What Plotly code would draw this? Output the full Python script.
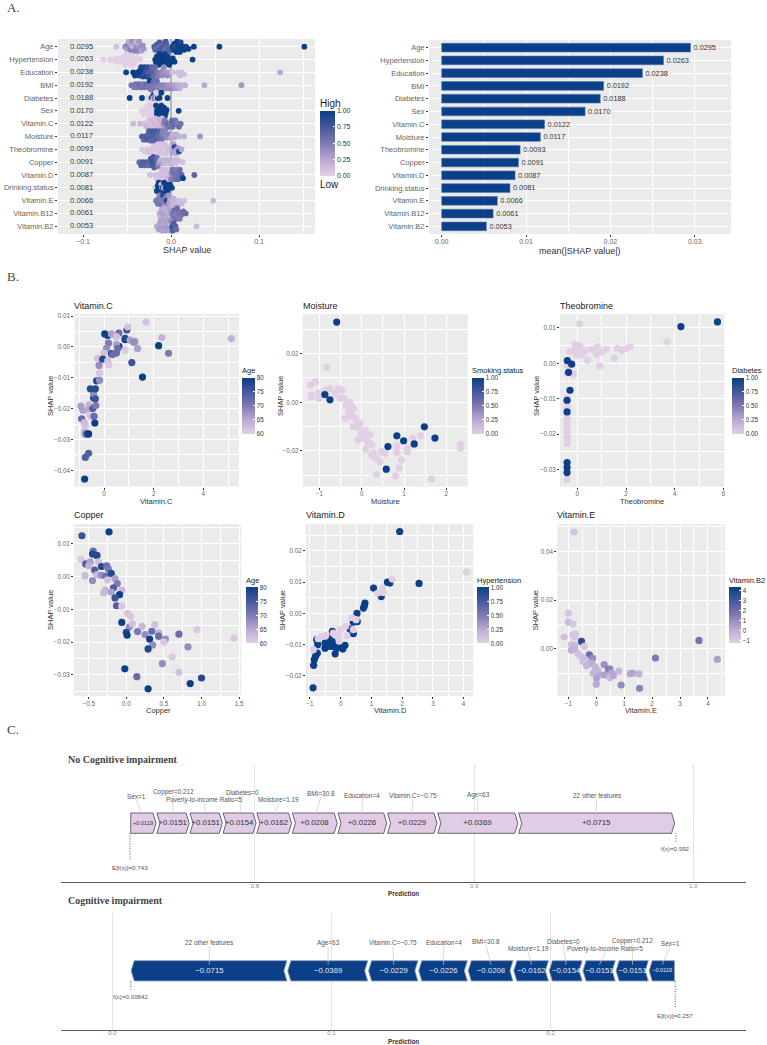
import plotly.graph_objects as go

WIDTH, HEIGHT = 767, 1045
SANS = "Liberation Sans, Arial, sans-serif"
SERIF = "Liberation Serif, Times New Roman, serif"
NAVY = "#0B3F87"
LILAC = "#E0CCE4"
PANEL_BG = "#EBEBEB"
SCALE = [[0, "#E2CFE6"], [0.25, "#B9A9D2"], [0.5, "#7F7AB2"], [0.75, "#46589C"], [1, NAVY]]

# ---- global importance -------------------------------------------------------
FEATURES = ["Age", "Hypertension", "Education", "BMI", "Diabetes", "Sex", "Vitamin.C", "Moisture",
            "Theobromine", "Copper", "Vitamin.D", "Drinking.status", "Vitamin.E", "Vitamin.B12", "Vitamin.B2"]
MEAN_SHAP = [0.0295, 0.0263, 0.0238, 0.0192, 0.0188, 0.0170, 0.0122, 0.0117,
             0.0093, 0.0091, 0.0087, 0.0081, 0.0066, 0.0061, 0.0053]

# ---- per-feature SHAP values and scaled feature values -----------------------
AGE_S = [-0.062, -0.052, -0.05, -0.049, -0.048, -0.047, -0.046, -0.045, -0.044, -0.043, -0.042, -0.041, -0.04, -0.039,
         -0.038, -0.037, -0.036, -0.035, -0.034, -0.032, -0.031, -0.019, -0.018, -0.016, -0.015, -0.014, -0.013, -0.012,
         -0.011, -0.01, -0.009, -0.008, -0.007, -0.006, -0.005, -0.004, -0.002, 0.002, 0.003, 0.004, 0.005, 0.006, 0.007,
         0.008, 0.009, 0.01, 0.011, 0.013, 0.015, 0.017, 0.02, 0.026, 0.055, 0.1515]
AGE_C = [0.1, 0.4, 0.3, 0.45, 0.25, 0.4, 0.5, 0.2, 0.4, 0.15, 0.45, 0.3, 0.2, 0.4, 0.45, 0.25, 0.35, 0.4, 0.3, 0.4, 0.35,
         0.7, 0.65, 0.75, 0.6, 0.7, 0.75, 0.6, 0.7, 0.75, 0.65, 0.7, 0.6, 0.75, 0.7, 0.65, 0.7, 1, 0.95, 1, 0.9, 1, 1,
         0.95, 1, 1, 0.9, 1, 1, 0.95, 1, 1, 1, 1]
HYP_S = [-0.077, -0.069, -0.065, -0.062, -0.06, -0.058, -0.056, -0.054, -0.053, -0.052, -0.051, -0.05, -0.049, -0.048,
         -0.047, -0.046, -0.045, -0.044, -0.043, -0.042, -0.04, -0.038, -0.035, -0.018, -0.017, -0.016, -0.016, -0.015,
         -0.015, -0.014, -0.014, -0.013, -0.013, -0.012, -0.012, -0.012, -0.011, -0.011, -0.011, -0.01, -0.01, -0.01,
         -0.009, -0.009, -0.009, -0.008, -0.008, -0.008, -0.007, -0.007, -0.006, -0.006, -0.005, -0.004, -0.003, -0.002,
         0.0, 0.002, 0.004, 0.0245]
HYP_C = [0] * 23 + [1] * 37
EDU_S = [-0.051, -0.043, -0.041, -0.038, -0.036, -0.035, -0.034, -0.033, -0.032, -0.031, -0.03, -0.029, -0.028, -0.027,
         -0.026, -0.025, -0.024, -0.023, -0.022, -0.021, -0.02, -0.019, -0.018, -0.016, -0.014, -0.012, -0.01, -0.009,
         -0.008, -0.006, -0.004, -0.002, 0.002, 0.008, 0.01, 0.012, 0.015, 0.124]
EDU_C = [1, 1, 1, 1, 0.95, 1, 0.9, 1, 0.85, 0.95, 0.9, 0.8, 0.9, 0.75, 0.85, 0.7, 0.8, 0.7, 0.65, 0.7, 0.6, 0.65, 0.6, 0.55,
         0.5, 0.45, 0.4, 0.4, 0.4, 0.35, 0.4, 0.3, 0.1, 0.12, 0.1, 0.12, 0.1, 0.25]
BMI_S = [-0.045, -0.042, -0.04, -0.038, -0.036, -0.034, -0.032, -0.03, -0.028, -0.026, -0.024, -0.024, -0.023, -0.022,
         -0.02, -0.019, -0.018, -0.017, -0.016, -0.015, -0.014, -0.012, -0.01, -0.008, -0.006, -0.004, -0.002, 0.0, 0.002,
         0.004, 0.006, 0.008, 0.01, 0.012, 0.016, 0.038, 0.08]
BMI_C = [0.55, 0.5, 0.55, 0.5, 0.6, 0.55, 0.5, 0.55, 0.6, 0.5, 0.55, 1, 0.5, 0.55, 0.6, 0.5, 0.55, 0.5, 0.6, 0.45, 0.5, 0.45,
         0.4, 0.45, 0.4, 0.35, 0.4, 0.35, 0.4, 0.3, 0.3, 0.25, 0.2, 0.2, 0.2, 0.25, 0.35]
DIA_S = [-0.047, -0.033, -0.026, -0.022, -0.021, -0.02, -0.02, -0.019, -0.019, -0.018, -0.018, -0.017, -0.017, -0.016,
         -0.016, -0.015, -0.015, -0.014, -0.013, -0.012, -0.011, -0.004]
DIA_C = [1, 1, 0, 1, 0, 1, 0, 1, 0, 0, 1, 0, 0, 1, 0, 0, 1, 0, 1, 0, 1, 1]
SEX_S = [-0.033, -0.031, -0.029, -0.028, -0.027, -0.026, -0.025, -0.024, -0.023, -0.022, -0.021, -0.02, -0.019, -0.018,
         -0.017, -0.016, -0.016, -0.015, -0.015, -0.014, -0.014, -0.013, -0.013, -0.012, -0.012, -0.012, -0.011, -0.011,
         -0.011, -0.01, -0.01, -0.01, -0.009, -0.009, -0.008, -0.007, -0.006, -0.005, 0.0087]
SEX_C = [0] * 14 + [1] * 25
VTC_S = [-0.043, -0.035, -0.03, -0.028, -0.026, -0.025, -0.024, -0.022, -0.021, -0.02, -0.019, -0.018, -0.017, -0.016,
         -0.015, -0.014, -0.013, -0.012, -0.011, -0.01, -0.009, -0.008, -0.007, -0.006, -0.004, -0.002, 0.0, 0.001, 0.002,
         0.003, 0.003, 0.005, 0.007, 0.009, 0.011]
VTC_C = [0.15, 0.15, 0.1, 0.15, 0.1, 0.1, 0.15, 0.05, 0.15, 0.1, 0.15, 0.1, 0.1, 0.15, 0.1, 0.15, 0.1, 0.15, 0.2, 0.15, 0.2,
         0.45, 0.5, 0.45, 0.6, 0.55, 0.5, 0.6, 0.55, 1, 0.6, 0.55, 0.5, 0.6, 0.55]
MST_S = [-0.033, -0.031, -0.029, -0.027, -0.026, -0.025, -0.024, -0.023, -0.022, -0.021, -0.02, -0.019, -0.018, -0.017,
         -0.016, -0.015, -0.014, -0.013, -0.012, -0.011, -0.01, -0.009, -0.008, -0.006, -0.004, -0.002, 0.0, 0.002, 0.004,
         0.006, 0.009, 0.015, 0.033]
MST_C = [0.7, 0.65, 0.75, 0.7, 0.65, 0.7, 0.75, 0.65, 0.7, 0.75, 0.7, 0.65, 0.7, 0.75, 0.65, 0.7, 0.6, 0.65, 0.6, 0.55, 0.5,
         0.45, 0.5, 0.45, 0.4, 0.45, 0.25, 0.2, 0.25, 0.2, 0.2, 0.2, 0.35]
THE_S = [-0.033, -0.03, -0.027, -0.025, -0.023, -0.021, -0.02, -0.018, -0.017, -0.016, -0.015, -0.014, -0.013, -0.012,
         -0.011, -0.01, -0.009, -0.008, -0.007, -0.006, -0.005, -0.003, -0.002, 0.0, 0.001, 0.002, 0.003, 0.004, 0.005,
         0.006, 0.008, 0.009, 0.012]
THE_C = [0.05, 0.05, 0.05, 0.08, 0.05, 0.05, 0.08, 0.05, 0.05, 0.08, 0.05, 0.05, 0.08, 0.05, 0.05, 0.08, 0.05, 0.05, 0.08,
         0.05, 0.08, 0.1, 0.1, 0.1, 0.15, 0.3, 0.3, 0.9, 0.3, 0.25, 0.3, 0.9, 0.25]
COP_S = [-0.036, -0.034, -0.032, -0.03, -0.028, -0.026, -0.024, -0.023, -0.022, -0.021, -0.02, -0.019, -0.018, -0.017,
         -0.016, -0.015, -0.014, -0.012, -0.01, -0.008, -0.006, -0.004, -0.002, 0.0, 0.002, 0.004, 0.006, 0.008, 0.013]
COP_C = [0.6, 0.65, 0.7, 0.65, 0.7, 0.6, 0.65, 0.75, 0.7, 0.8, 0.75, 0.7, 0.75, 0.7, 0.6, 0.5, 0.35, 0.2, 0.25, 0.2, 0.15,
         0.2, 0.15, 0.2, 0.15, 0.15, 0.1, 0.15, 0.1]
VTD_S = [-0.024, -0.018, -0.016, -0.014, -0.012, -0.011, -0.01, -0.009, -0.008, -0.007, -0.006, -0.005, -0.004, -0.003,
         -0.002, -0.001, 0.0, 0.001, 0.002, 0.003, 0.004, 0.005, 0.006, 0.007, 0.008, 0.009, 0.01, 0.012, 0.0136, 0.0265]
VTD_C = [0.1, 0.1, 0.08, 0.1, 0.08, 0.1, 0.12, 0.1, 0.08, 0.1, 0.12, 0.1, 0.15, 0.1, 0.12, 0.15, 0.45, 0.5, 0.55, 0.5, 0.55,
         0.6, 0.5, 0.55, 0.6, 0.55, 0.6, 0.65, 1, 0.65]
DRK_S = [-0.018, -0.016, -0.015, -0.014, -0.013, -0.012, -0.012, -0.011, -0.011, -0.01, -0.01, -0.009, -0.009, -0.008,
         -0.008, -0.008, -0.007, -0.007, -0.006, -0.006, -0.005, -0.004, -0.003, -0.001, 0.001]
DRK_C = [0.05, 1, 1, 1, 1, 1, 1, 0.05, 1, 1, 0.05, 1, 1, 1, 1, 0.05, 1, 0.05, 1, 1, 1, 1, 1, 1, 1]
VTE_S = [-0.017, -0.015, -0.014, -0.013, -0.012, -0.011, -0.01, -0.009, -0.009, -0.008, -0.007, -0.006, -0.005, -0.005,
         -0.004, -0.003, -0.002, -0.001, 0.0, 0.002, 0.003, 0.004, 0.006, 0.008, 0.01, 0.012, 0.015, 0.048]
VTE_C = [0.5, 0.55, 0.5, 0.45, 0.5, 0.55, 0.5, 0.9, 0.45, 0.5, 0.45, 0.5, 0.4, 0.9, 0.4, 0.35, 0.3, 0.25, 0.2, 0.15, 0.2, 0.15,
         0.15, 0.15, 0.1, 0.15, 0.1, 0.15]
B12_S = [-0.013, -0.012, -0.011, -0.01, -0.009, -0.008, -0.007, -0.006, -0.005, -0.004, -0.003, -0.002, -0.001, 0.0, 0.001,
         0.002, 0.003, 0.004, 0.005, 0.006, 0.007, 0.008, 0.009, 0.01, 0.012, 0.014, 0.0167]
B12_C = [0.25, 0.2, 0.25, 0.3, 0.25, 0.2, 0.3, 0.25, 0.2, 0.25, 0.3, 0.2, 0.25, 0.3, 0.4, 0.5, 0.55, 0.6, 0.5, 0.55, 0.6, 0.5,
         0.55, 0.5, 0.55, 0.6, 0.6]
B2_S = [-0.016, -0.014, -0.013, -0.012, -0.011, -0.01, -0.009, -0.008, -0.007, -0.006, -0.005, -0.004, -0.003, -0.002,
        -0.001, 0.0, 0.001, 0.002, 0.002, 0.003, 0.004, 0.005, 0.006, 0.029]
B2_C = [0.25, 0.3, 0.25, 0.3, 0.35, 0.3, 0.25, 0.3, 0.35, 0.3, 0.25, 0.3, 0.35, 0.3, 0.25, 0.4, 0.6, 0.7, 0.9, 0.7, 0.65, 0.7,
        0.6, 0.15]
ROW_SHAP = [AGE_S, HYP_S, EDU_S, BMI_S, DIA_S, SEX_S, VTC_S, MST_S, THE_S, COP_S, VTD_S, DRK_S, VTE_S, B12_S, B2_S]
ROW_COLOUR = [AGE_C, HYP_C, EDU_C, BMI_C, DIA_C, SEX_C, VTC_C, MST_C, THE_C, COP_C, VTD_C, DRK_C, VTE_C, B12_C, B2_C]

# ---- dependence panels --------------------------------------------------------
VITC_X = [-0.93, -0.9, -0.85, -0.8, -0.78, -0.76, -0.75, -0.68, -0.62, -0.75, -0.62, -0.78, -0.6, -0.65, -0.58, -0.5, -0.4,
          -0.37, -0.45, -0.33, -0.42, -0.42, -0.35, -0.55, -0.35, -0.3, -0.18, -0.18, -0.2, -0.25, 0.03, 0.15, 0.3, 0.6,
          0.92, 0.95, 1.7, 2.33, 5.13, 2.2, 2.6, 1.55, 1.12, 0.85, 0.85, 1.05, 1.25, 1.2, 1.35, 0.85, 0.6, 0.5, 0.3, 0.18,
          0.1, 0.0, -0.05, 0.15, 0.2, 0.35, 0.5, 0.5, 0.55]
VITC_Y = [-0.0192, -0.0233, -0.0205, -0.0245, -0.0275, -0.0282, -0.0255, -0.0282, -0.0282, -0.0358, -0.0345, -0.0428,
          -0.0188, -0.0205, -0.022, -0.0225, -0.0225, -0.0247, -0.02, -0.019, -0.0165, -0.0152, -0.0168, -0.0136, -0.0136,
          -0.011, -0.0108, -0.0085, -0.006, -0.0037, 0.0042, 0.0037, 0.0042, 0.0045, 0.0055, 0.0065, 0.008, 0.003, 0.0027,
          0.0004, -0.0021, -0.0098, -0.0051, 0.0023, 0.0028, 0.0022, 0.0018, 0.0015, -0.0005, -0.001, 0.0002, 0.0033,
          -0.0022, 0.0012, -0.0005, -0.002, -0.004, -0.0045, -0.0058, -0.0025, -0.002, 0.0008, -0.0005]
VITC_AGE = [66, 72, 66, 63, 64, 67, 62, 78, 80, 74, 74, 80, 64, 65, 61, 62, 72, 80, 74, 70, 78, 68, 76, 78, 78, 78, 68, 61,
            68, 62, 80, 80, 66, 72, 75, 62, 62, 64, 64, 80, 70, 80, 76, 80, 78, 66, 66, 68, 66, 61, 80, 62, 78, 70, 68, 62,
            78, 62, 61, 72, 72, 66, 72]

MOIST_X = [-0.83, -1.09, -1.21, -1.2, -1.18, -1.02, -1.01, -0.87, -0.75, -0.55, -0.47, -0.63, -0.51, -0.42, -0.37, -0.24,
           -0.31, -0.39, -0.24, -0.16, -0.1, -0.2, -0.08, 0.08, 0.2, -0.08, 0.04, 0.16, 0.24, 0.1, 0.24, 0.35, 0.43, 0.55,
           0.35, 0.8, 0.88, 0.94, 0.83, 0.83, 1.08, 1.08, 1.2, 1.39, 1.65, 2.33, 2.33, -0.28, -0.2, -0.04, 0.0, 0.12, 0.28,
           0.47, -0.87, -0.75, -0.59, 0.62, 1.48, 0.83, 0.99, 1.73, 1.24, 0.58]
MOIST_Y = [0.0144, 0.0084, 0.007, 0.003, 0.0023, 0.0037, 0.0016, 0.005, 0.0056, 0.0055, 0.0048, 0.0037, 0.0016, 0.0016,
           -0.0011, -0.002, -0.0038, -0.0066, -0.0056, -0.0066, -0.008, -0.01, -0.0103, -0.0114, -0.0134, -0.0155, -0.0148,
           -0.0168, -0.0175, -0.0193, -0.0219, -0.023, -0.0244, -0.021, -0.0296, -0.0303, -0.027, -0.0237, -0.0179, -0.0205,
           -0.0189, -0.0203, -0.0148, -0.0137, -0.0315, -0.0173, -0.019, 0.0, -0.0028, -0.0086, -0.0127, -0.0141, -0.0208,
           -0.0203, 0.0032, 0.001, 0.033, -0.0182, -0.0101, -0.0138, -0.0158, -0.0147, -0.0171, -0.0275]
MOIST_SMOKE = [0] * 54 + [1] * 10

THEO_X = [0.1, 3.68, -0.1, 0.1, -0.3, -0.1, 0.11, -0.03, 0.18, 0.32, 0.42, 0.59, 0.82, 0.79, 1.0, 1.18, 0.92, 1.52, 1.64, 1.82,
          2.03, 2.16, -0.42, -0.41, -0.16, -0.42, -0.42, -0.42, -0.42, -0.42, -0.42, -0.42, -0.42, -0.42, -0.42, -0.42,
          -0.42, -0.42, -0.42, 5.75, 4.25, -0.23, -0.36, -0.3, -0.42, -0.42, -0.42, -0.42, -0.42, -0.41]
THEO_Y = [0.0112, 0.0061, 0.0054, 0.005, 0.0033, 0.0038, 0.0033, 0.0024, 0.0024, 0.0036, 0.0009, 0.004, 0.0047, 0.0026, 0.0033,
          0.004, -0.0007, 0.0015, 0.0042, 0.0038, 0.0042, 0.0047, -0.0005, -0.0028, -0.003, -0.0098, -0.011, -0.012, -0.0128,
          -0.0145, -0.0155, -0.0165, -0.0175, -0.0185, -0.0195, -0.0205, -0.0215, -0.0226, -0.0328, 0.0117, 0.0104, -0.0002,
          -0.0025, -0.0076, -0.0104, -0.0137, -0.028, -0.0294, -0.0308, 0.0008]
THEO_DIAB = [0] * 39 + [1] * 11

COPPER_X = [-0.59, -0.23, -0.6, -0.44, -0.45, -0.39, -0.54, -0.48, -0.5, -0.37, -0.33, -0.26, -0.42, -0.55, -0.45, -0.39, -0.33,
            -0.27, -0.24, -0.25, -0.2, -0.15, -0.12, -0.17, -0.28, -0.3, -0.2, -0.06, -0.09, -0.15, -0.13, -0.06, 0.02, 0.06,
            -0.06, 0.04, 0.08, 0.0, 0.01, 0.15, 0.21, 0.25, 0.34, 0.38, 0.43, 0.43, 0.52, 0.5, 0.7, 0.94, 1.43, 0.31, 0.35,
            0.29, 0.82, 0.61, 0.48, -0.02, 0.14, 0.7, 1.0, 0.85, 0.29]
COPPER_Y = [0.0125, 0.0137, 0.0053, 0.0078, 0.0069, 0.0065, 0.0039, 0.0045, 0.0033, 0.0045, 0.0031, 0.0033, 0.002, 0.0003,
            -0.0012, 0.0006, 0.0004, 0.0002, 0.0024, -0.001, 0.001, -0.0006, -0.0021, -0.0034, -0.0042, -0.0049, -0.0047,
            -0.0042, -0.0055, -0.0065, -0.0089, -0.009, -0.0113, -0.0121, -0.014, -0.0154, -0.0144, -0.017, -0.0179, -0.0168,
            -0.0152, -0.0177, -0.0167, -0.0147, -0.0172, -0.0182, -0.0191, -0.02, -0.0176, -0.0162, -0.0188, -0.0191, -0.0209,
            -0.0221, -0.0215, -0.0245, -0.0266, -0.0282, -0.0306, -0.0292, -0.031, -0.0327, -0.0343]
COPPER_AGE = [76, 80, 61, 72, 78, 78, 74, 66, 64, 62, 78, 72, 74, 63, 68, 63, 68, 72, 70, 62, 78, 66, 70, 74, 64, 63, 66, 63, 80,
              76, 74, 61, 62, 61, 80, 68, 62, 78, 80, 70, 63, 68, 72, 62, 64, 72, 68, 61, 72, 61, 61, 80, 68, 78, 68, 61, 68,
              80, 72, 62, 78, 80, 80]

VITD_X = [1.92, 2.55, 1.07, 1.32, 1.52, 1.6, 0.79, 0.77, 0.74, 0.53, 0.41, 0.54, 0.3, 0.41, -0.27, -0.78, -0.75, -0.76, -0.82,
          -0.86, -0.88, -0.9, -0.18, -0.51, -0.51, -0.35, -0.29, -0.18, -0.08, 0.09, 0.14, 0.07, -0.35, -0.24, -0.13, -0.4,
          4.09, 1.68, 1.36, 1.21, 1.39, 0.36, 0.5, 0.16, 0.41, -0.02, 0.2, -0.18, -0.08, -0.62, -0.49, -0.73, -0.89, -0.05, -0.24]
VITD_Y = [0.0262, 0.0096, 0.0081, 0.0054, 0.01, 0.0097, 0.0033, 0.0024, 0.0017, 0.0, -0.0028, -0.0026, -0.005, -0.0065, -0.0057,
          -0.0084, -0.01, -0.0127, -0.0137, -0.0148, -0.0166, -0.0238, -0.0129, -0.0111, -0.0095, -0.0105, -0.0089, -0.0095,
          -0.01, -0.0105, -0.0102, -0.0114, -0.0079, -0.0105, -0.0111, -0.01, 0.0133, 0.011, 0.0081, 0.0065, 0.0067, -0.0013,
          -0.002, -0.0041, -0.0052, -0.0052, -0.0071, -0.0068, -0.0073, -0.0073, -0.0071, -0.0081, -0.0116, -0.0089, -0.0063]
VITD_HYP = [1] * 36 + [0] * 19

VITE_X = [-0.8, -1.0, -1.0, -0.83, -1.15, -0.83, -0.75, -0.77, -0.53, -0.43, -0.89, -0.77, -0.89, -0.77, -0.65, -0.25, -0.53, -0.41,
          -0.13, -0.29, -0.17, -0.47, -0.35, -0.05, 0.04, -0.11, 0.13, 0.01, 0.28, 0.44, 0.49, 0.31, 0.55, 0.49, 0.61, 0.81, 0.0,
          0.89, 1.22, 1.3, 1.53, 1.55, 2.12, 3.68, 4.34]
VITE_Y = [0.0479, 0.0147, 0.011, 0.0102, 0.0049, 0.0057, 0.006, 0.0048, 0.0031, 0.0011, 0.0018, 0.0014, -0.0005, -0.0004, -0.002,
          -0.0024, -0.0031, -0.0042, -0.0038, -0.0059, -0.0059, -0.0052, -0.0069, -0.0072, -0.0086, -0.0099, -0.0106, -0.012,
          -0.0064, -0.0082, -0.0082, -0.0106, -0.0099, -0.0117, -0.0109, -0.0091, -0.0144, -0.0148, -0.0101, -0.0099, -0.0102,
          -0.0161, -0.0037, 0.0035, -0.0042]
VITE_B2 = [-0.8, -0.9, -0.5, -0.9, -0.7, -0.8, -0.9, -0.9, 3.5, -0.9, -0.6, -0.4, -0.1, -0.2, -0.7, 2.0, -0.7, -0.6, 1.0, -0.4, 0.0,
           -0.7, -0.3, -0.2, -0.3, -0.3, 0.0, 0.3, 0.8, 1.8, 1.2, 0.4, 0.2, -0.5, 0.2, -0.4, 0.0, 1.0, 0.2, 0.2, -0.2, 1.2, 1.5,
           1.8, 0.4]

# ---- force plots --------------------------------------------------------------
FORCE_LABELS = ["Sex=1", "Copper=0.212", "Poverty-to-income Ratio=5", "Diabetes=0", "Moisture=1.19", "BMI=30.8",
                "Education=4", "Vitamin.C=\u22120.75", "Age=63", "22 other features"]
FORCE_CONTRIB = [0.0119, 0.0151, 0.0151, 0.0154, 0.0162, 0.0208, 0.0226, 0.0229, 0.0369, 0.0715]
BASE_NO_IMPAIR = 0.743
OUT_NO_IMPAIR = 0.992
BASE_IMPAIR = 0.257
OUT_IMPAIR = 0.00842

# Label centres for the force plots, in page pixels.
C1_LABEL_X = [136, 173.3, 204, 242.3, 278.7, 321, 362.3, 413, 478, 596.7]
C1_LABEL_Y = [796, 792.3, 799.7, 792.3, 799.7, 793.3, 795, 795, 795, 795]
C2_LABEL_X = [670, 632.3, 605.3, 563.3, 528, 485.7, 443.7, 393, 328, 209.3]
C2_LABEL_Y = [943.3, 941, 948.7, 941, 948.3, 941, 942.7, 942.7, 942.7, 942.7]


def fx(px):
    return px / WIDTH


def fy(py):
    return 1 - py / HEIGHT


fig = go.Figure()
# Margins stay fixed so the colour bars cannot push the pixel-placed panels around.
layout = dict(width=WIDTH, height=HEIGHT, autosize=False, margin=dict(l=0, r=0, t=0, b=0, autoexpand=False), paper_bgcolor="white",
              plot_bgcolor="white", showlegend=False, font=dict(family=SANS, color="#4D4D4D"))
notes = []
shapes = []


def note(text, x, y, size, color="#333333", anchor="center", family=SANS, angle=0):
    notes.append(dict(text=text, x=fx(x), y=fy(y), xref="paper", yref="paper", showarrow=False, xanchor=anchor,
                      yanchor="middle", textangle=angle, font=dict(size=size, color=color, family=family),
                      borderpad=0, borderwidth=0))


def ggplot_axes(n, box, xrange, yrange, xdtick, ydtick, xfmt, yfmt, size=6.3):
    """Place one grey-panel pair of axes at a pixel box (left, right, top, bottom)."""
    left, right, top, bottom = box
    suffix = "" if n == 1 else str(n)
    shapes.append(dict(type="rect", xref="paper", yref="paper", x0=fx(left), x1=fx(right), y0=fy(bottom), y1=fy(top),
                       fillcolor=PANEL_BG, line=dict(width=0), layer="below"))
    common = dict(showgrid=True, gridcolor="white", gridwidth=0.9, zeroline=False, showline=False, ticks="outside", ticklen=2,
                  tickwidth=0.8, tickcolor="#333333", tickfont=dict(size=size, color="#666666", family=SANS))
    layout["xaxis" + suffix] = dict(common, domain=[fx(left), fx(right)], anchor="y" + suffix, range=xrange, dtick=xdtick,
                                    tick0=0, tickformat=xfmt, ticklabelstandoff=-1,
                                    minor=dict(dtick=xdtick / 2, tick0=0, showgrid=True, gridcolor="white", gridwidth=0.4, ticks=""))
    yaxis = dict(common, domain=[fy(bottom), fy(top)], anchor="x" + suffix, range=yrange)
    if ydtick is not None:
        yaxis.update(dtick=ydtick, tick0=0, tickformat=yfmt,
                     minor=dict(dtick=ydtick / 2, tick0=0, showgrid=True, gridcolor="white", gridwidth=0.4, ticks=""))
    layout["yaxis" + suffix] = yaxis
    return "x" + suffix, "y" + suffix


def colour_bar(n, box, cmin, cmax, tickvals, fmt, size=6.3):
    left, right, top, bottom = box
    key = "coloraxis" if n == 1 else "coloraxis" + str(n)
    layout[key] = dict(colorscale=SCALE, cmin=cmin, cmax=cmax, colorbar=dict(
        x=fx(left), xanchor="left", y=fy(top), yanchor="top", yref="paper", xref="paper", len=bottom - top, lenmode="pixels",
        thickness=right - left, thicknessmode="pixels", xpad=0, ypad=0, outlinewidth=0, tickvals=tickvals, tickformat=fmt,
        ticks="inside", ticklen=2, tickwidth=0.6, tickcolor="white", tickfont=dict(size=size, color="#333333", family=SANS)))
    return key


# Panel A, left: beeswarm of SHAP values per feature.
AX_BOX = (58, 315, 39, 234)
ax, ay = ggplot_axes(1, AX_BOX, [-0.1284, 0.1636], [14.6, -0.6], 0.1, None, ".1f", None, size=7)
layout["yaxis"].update(tickvals=list(range(15)), ticktext=FEATURES, showgrid=True,
                       tickfont=dict(size=7.5, color="#666666", family=SANS))
# Reference line at zero sits under the points.
fig.add_trace(go.Scatter(x=[0, 0], y=[14.6, -0.6], xaxis=ax, yaxis=ay, mode="lines", hoverinfo="skip",
                         line=dict(color="#B0B0B0", width=1.8)))
PX_PER_SHAP = 880.0
PX_PER_ROW = 12.78


def swarm_offsets(values, spacing=2.9, limit=5.6):
    """Stack points around their row line so that they spread without covering each other."""
    placed = []
    offsets = []
    for v in values:
        px = v * PX_PER_SHAP
        choice = 0.0
        step = 0
        while True:
            candidates = [0.0] if step == 0 else [step * 1.05, -step * 1.05]
            hit = None
            for dy in candidates:
                if abs(dy) > limit:
                    continue
                if all((px - qx) ** 2 + (dy - qy) ** 2 >= spacing ** 2 for qx, qy in placed):
                    hit = dy
                    break
            if hit is not None:
                choice = hit
                break
            step += 1
            if step * 1.05 > limit:
                break
        placed.append((px, choice))
        offsets.append(choice / PX_PER_ROW)
    return offsets


swarm_x, swarm_y, swarm_c = [], [], []
for row, (vals, cols) in enumerate(zip(ROW_SHAP, ROW_COLOUR)):
    swarm_x += vals
    swarm_y += [row + d for d in swarm_offsets(vals)]
    swarm_c += cols
cb = colour_bar(1, (320, 335, 110.7, 176), 0, 1, [0, 0.25, 0.5, 0.75, 1], ".2f", size=7)
fig.add_trace(go.Scatter(x=swarm_x, y=swarm_y, xaxis=ax, yaxis=ay, mode="markers", hoverinfo="skip",
                         marker=dict(size=5.8, color=swarm_c, coloraxis=cb, line=dict(width=0))))
fig.add_trace(go.Scatter(x=[-0.1015] * 15, y=list(range(15)), xaxis=ax, yaxis=ay, mode="text", hoverinfo="skip",
                         text=["%.4f" % v for v in MEAN_SHAP], textfont=dict(size=7.6, color="#333333", family=SANS)))
note("SHAP value", 186.5, 250, 9)
note("High", 320, 103, 10, anchor="left", color="#222222")
note("Low", 320, 184.5, 10, anchor="left", color="#222222")

# Panel A, right: mean absolute SHAP value.
bx, by = ggplot_axes(2, (429, 731, 40, 234), [-0.0015, 0.0343], [14.6, -0.6], 0.01, None, ".2f", None, size=7)
layout["yaxis2"].update(type="category", categoryorder="array", categoryarray=FEATURES,
                        tickfont=dict(size=7.5, color="#666666", family=SANS))
fig.add_trace(go.Bar(x=MEAN_SHAP, y=FEATURES, xaxis=bx, yaxis=by, orientation="h", width=0.68, hoverinfo="skip",
                     marker=dict(color=NAVY, line=dict(color="#4D78AE", width=0.6)),
                     text=["%.4f" % v for v in MEAN_SHAP], textposition="outside", cliponaxis=False,
                     textfont=dict(size=7.6, color="#333333", family=SANS)))
note("mean(|SHAP value|)", 580, 250.5, 9)

# Panel B: dependence plots.
DEPENDENCE = [
    (3, "Vitamin.C", (74.3, 239, 314, 486.7), [-1.196, 5.437], [-0.0453, 0.01065], 2, 0.01, "d", VITC_X, VITC_Y, VITC_AGE,
     "Age", (242.3, 255), 60, 80, [60, 65, 70, 75, 80], "d", 156.7, 50),
    (4, "Moisture", (302.7, 467.7, 314, 486.7), [-1.394, 2.504], [-0.0347, 0.0363], 1, 0.02, "d", MOIST_X, MOIST_Y, MOIST_SMOKE,
     "Smoking.status", (471.7, 483.3), 0, 1, [0, 0.25, 0.5, 0.75, 1], ".2f", 385, 280),
    (5, "Theobromine", (560, 724.3, 314, 486.7), [-0.71, 6.03], [-0.0348, 0.01395], 2, 0.01, "d", THEO_X, THEO_Y, THEO_DIAB,
     "Diabetes", (731.7, 743.3), 0, 1, [0, 0.25, 0.5, 0.75, 1], ".2f", 642, 536),
    (6, "Copper", (74, 241.3, 524, 696), [-0.6955, 1.529], [-0.0365, 0.0161], 0.5, 0.01, ".1f", COPPER_X, COPPER_Y, COPPER_AGE,
     "Age", (245.7, 257.7), 60, 80, [60, 65, 70, 75, 80], "d", 158, 50),
    (7, "Vitamin.D", (306, 473.3, 524, 696), [-1.129, 4.315], [-0.0264, 0.0286], 1, 0.01, "d", VITD_X, VITD_Y, VITD_HYP,
     "Hypertension", (477.3, 489.3), 0, 1, [0, 0.25, 0.5, 0.75, 1], ".2f", 390, 282.3),
    (8, "Vitamin.E", (557.3, 725, 524, 696), [-1.398, 4.613], [-0.01926, 0.0512], 1, 0.02, "d", VITE_X, VITE_Y, VITE_B2,
     "Vitamin.B2", (728.7, 740.7), -1.27, 4.3, [-1, 0, 1, 2, 3, 4], "d", 641, 535.3),
]
for n, name, box, xr, yr, xd, yd, xf, xs, ys, cs, legend, cbx, cmin, cmax, cbt, cbf, xlab, ylab in DEPENDENCE:
    dx, dy = ggplot_axes(n, box, xr, yr, xd, yd, xf, ".2f")
    cb_top, cb_bottom = (377.7, 433.7) if n < 6 else (587.3, 643.7)
    cb = colour_bar(n - 1, (cbx[0], cbx[1], cb_top, cb_bottom), cmin, cmax, cbt, cbf)
    fig.add_trace(go.Scatter(x=xs, y=ys, xaxis=dx, yaxis=dy, mode="markers", hoverinfo="skip",
                             marker=dict(size=7.2, color=cs, coloraxis=cb, line=dict(width=0))))
    title_y, xlab_y, ylab_y = (306, 501.5, 396) if n < 6 else (515.3, 710.5, 610)
    note(name, box[0], title_y, 9, anchor="left", color="#222222")
    note(name, xlab, xlab_y, 7.5)
    note("SHAP value", ylab, ylab_y, 7.5, angle=-90)
    note(legend, cbx[0], cb_top - 7, 7.5, anchor="left", color="#222222")

# Panel C: force plots built from the base value and the ordered contributions.
TIP = 0.0014
GAP = 0.00035


def chevron(start, end, low, high):
    """Outline of one arrow segment running from start to end; the sign of end-start sets its direction."""
    sign = 1 if end > start else -1
    mid = (low + high) / 2
    tip = TIP * sign
    gap = GAP * sign
    notch = 0 if abs(start - force_base) < 1e-9 else tip
    return ([start + gap, end - tip, end, end - tip, start + gap, start + gap + notch, start + gap],
            [low, low, mid, high, high, mid, low])


def force_axes(n, top, bottom, xrange):
    suffix = str(n)
    layout["xaxis" + suffix] = dict(domain=[fx(60.7), fx(745.7)], anchor="y" + suffix, range=xrange, dtick=0.1, tick0=0, tickformat=".1f",
                                    showgrid=True, gridcolor="#E4E4E4", gridwidth=0.8, zeroline=False, showline=True, linecolor="#5A5A5A",
                                    linewidth=1.4, ticks="", ticklabelstandoff=-3, tickfont=dict(size=6, color="#8A8A8A", family=SANS))
    layout["yaxis" + suffix] = dict(domain=[fy(bottom), fy(top)], anchor="x" + suffix, range=[0, 1], visible=False)
    return "x" + suffix, "y" + suffix


FORCE_STYLE = {
    9: dict(box=(764, 882.3), xrange=[0.7114, 1.0238], base=BASE_NO_IMPAIR, out=OUT_NO_IMPAIR, sign=1, fill=LILAC, edge="#5F5266",
            text="#333333", low=0.414, high=0.586, lab_x=C1_LABEL_X, lab_y=C1_LABEL_Y, bar_top=813, base_end=0.188, out_end=0.343,
            base_y=867.3, out_y=848.7, title="No Cognitive impairment", title_y=759.3, pred_y=893.3),
    10: dict(box=(912.7, 1030), xrange=[-0.02356, 0.2892], base=BASE_IMPAIR, out=OUT_IMPAIR, sign=-1, fill=NAVY, edge="#8E9DB4",
             text="#E4E9F2", low=0.418, high=0.591, lab_x=C2_LABEL_X, lab_y=C2_LABEL_Y, bar_top=960.7, base_end=0.185, out_end=0.347,
             base_y=1015, out_y=996.7, title="Cognitive impairment", title_y=900.7, pred_y=1041),
}
for n, st in FORCE_STYLE.items():
    fx_ax, fy_ax = force_axes(n, st["box"][0], st["box"][1], st["xrange"])
    force_base = st["base"]
    px_per_unit = 685.0 / (st["xrange"][1] - st["xrange"][0])
    cursor = st["base"]
    centres, sizes, strings = [], [], []
    for i, (label, value) in enumerate(zip(FORCE_LABELS, FORCE_CONTRIB)):
        end = cursor + st["sign"] * value
        xs, ys = chevron(cursor, end, st["low"], st["high"])
        fig.add_trace(go.Scatter(x=xs, y=ys, xaxis=fx_ax, yaxis=fy_ax, mode="lines", fill="toself", fillcolor=st["fill"],
                                 line=dict(color=st["edge"], width=0.9), hoverinfo="skip"))
        centre = (cursor + end) / 2
        centres.append(centre)
        sizes.append(5.6 if i == 0 else 7.8)
        strings.append(("+" if st["sign"] > 0 else "\u2212") + ("%.4f" % value))
        centre_px = 60.7 + (centre - st["xrange"][0]) * px_per_unit
        shapes.append(dict(type="line", xref="paper", yref="paper", x0=fx(centre_px), x1=fx(st["lab_x"][i]),
                           y0=fy(st["bar_top"] + 4), y1=fy(st["lab_y"][i] + 3.5), line=dict(color="#C8C8C8", width=0.7)))
        note(label, st["lab_x"][i], st["lab_y"][i], 6.4, color="#555555")
        cursor = end
    fig.add_trace(go.Scatter(x=centres, y=[(st["low"] + st["high"]) / 2] * 10, xaxis=fx_ax, yaxis=fy_ax, mode="text", text=strings,
                             textfont=dict(size=sizes, color=st["text"], family=SANS), hoverinfo="skip"))
    fig.add_trace(go.Scatter(x=[st["base"], st["base"]], y=[st["low"], st["base_end"]], xaxis=fx_ax, yaxis=fy_ax, mode="lines",
                             line=dict(color="#6A6A6A", width=1.1, dash="1px,1.5px"), hoverinfo="skip"))
    fig.add_trace(go.Scatter(x=[st["out"], st["out"]], y=[st["low"], st["out_end"]], xaxis=fx_ax, yaxis=fy_ax, mode="lines",
                             line=dict(color="#6A6A6A", width=1.1, dash="1px,1.5px"), hoverinfo="skip"))
    base_px = 60.7 + (st["base"] - st["xrange"][0]) * px_per_unit
    out_px = 60.7 + (st["out"] - st["xrange"][0]) * px_per_unit
    note("E[f(x)]=%.3f" % st["base"], base_px, st["base_y"], 6.2, color="#555555")
    note("f(x)=%s" % ("%.3f" % st["out"] if st["out"] > 0.1 else "%.5f" % st["out"]), out_px, st["out_y"], 6.2, color="#555555")
    note("<b>%s</b>" % st["title"], 67.7, st["title_y"], 10, anchor="left", color="#444444", family=SERIF)
    note("<b>Prediction</b>", 403, st["pred_y"], 6.4, color="#333333")

# Panel letters.
note("A.", 7, 8, 13, anchor="left", family=SERIF, color="#444444")
note("B.", 7, 276, 13, anchor="left", family=SERIF, color="#444444")
note("C.", 7, 729, 13, anchor="left", family=SERIF, color="#444444")

layout["annotations"] = notes
layout["shapes"] = shapes
fig.update_layout(**layout)
fig.write_html("out.html", config=dict(displayModeBar=False))
